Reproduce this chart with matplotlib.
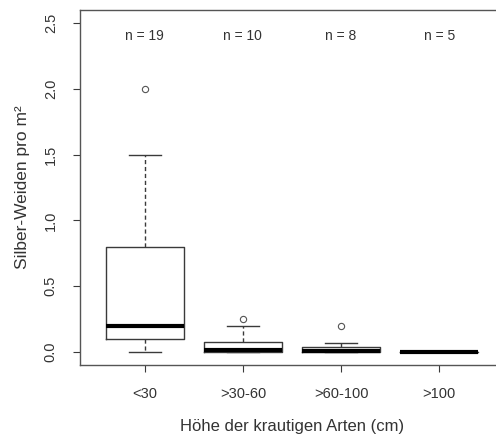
import matplotlib
matplotlib.use("Agg")
import matplotlib.pyplot as plt

plt.rcParams['font.family'] = ['Liberation Sans', 'DejaVu Sans']

categories = ['<30', '>30-60', '>60-100', '>100']
counts = [19, 10, 8, 5]
whislo = [0.0, 0.0, 0.0, 0.0]
q1 = [0.1, 0.0, 0.0, 0.0]
med = [0.2, 0.015, 0.005, 0.0]
q3 = [0.8, 0.075, 0.04, 0.0]
whishi = [1.5, 0.2, 0.07, 0.0]
fliers = [[2.0], [0.25], [0.2], []]

stats = []
for i in range(len(categories)):
    stats.append(dict(label=categories[i], whislo=whislo[i], q1=q1[i], med=med[i],
                      q3=q3[i], whishi=whishi[i], fliers=fliers[i]))

line_c = '#3a3a3a'
text_c = '#333333'

fig = plt.figure(figsize=(4.96, 4.34), dpi=100)
ax = fig.add_axes([80 / 496, 1 - 365 / 434, 424 / 496, 355 / 434])

ax.bxp(stats, positions=range(1, 5), widths=0.8,
       boxprops=dict(color=line_c, linewidth=1.0),
       medianprops=dict(color='black', linewidth=3.0, solid_capstyle='butt'),
       whiskerprops=dict(color=line_c, linewidth=1.0, linestyle=(0, (3, 2))),
       capprops=dict(color=line_c, linewidth=1.0),
       capwidths=0.33,
       flierprops=dict(marker='o', markersize=4.5, markerfacecolor='none',
                       markeredgecolor='#555555', markeredgewidth=0.8))

for i, n in enumerate(counts):
    ax.text(i + 1, 2.4, 'n = %d' % n, ha='center', va='center', fontsize=10, color=text_c)

ax.set_xlim(0.34, 4.66)
ax.set_ylim(-0.1, 2.6)
ax.set_yticks([0.0, 0.5, 1.0, 1.5, 2.0, 2.5])
ax.set_yticklabels(['0.0', '0.5', '1.0', '1.5', '2.0', '2.5'], rotation=90, va='center')
ax.set_xticks(range(1, 5))
ax.set_xticklabels(categories)
ax.tick_params(axis='both', colors=line_c, labelcolor=text_c, labelsize=10.5, length=5, width=0.8)
ax.tick_params(axis='x', pad=11)
ax.tick_params(axis='y', pad=11)

for s in ax.spines.values():
    s.set_color('#555555')
    s.set_linewidth(1.0)

ax.set_xlabel('Höhe der krautigen Arten (cm)', fontsize=12, color=text_c, labelpad=12.5)
ax.set_ylabel('Silber-Weiden pro m²', fontsize=12.5, color=text_c, labelpad=10)

fig.savefig('out.png', dpi=100)
